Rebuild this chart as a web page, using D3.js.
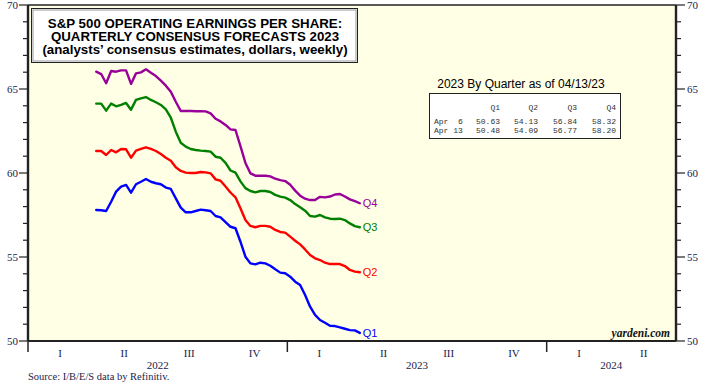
<!DOCTYPE html>
<html>
<head>
<meta charset="utf-8">
<script src="https://cdn.jsdelivr.net/npm/d3@7"></script>
<style>
  html, body { margin: 0; padding: 0; background: #ffffff; }
  svg { display: block; }
</style>
</head>
<body>
<svg id="chart" width="713" height="383"></svg>
<script>
// ---------------- DATA ----------------
const dates = [
  "2022-04-07","2022-04-14","2022-04-21","2022-04-28","2022-05-05","2022-05-12","2022-05-19","2022-05-26",
  "2022-06-02","2022-06-09","2022-06-16","2022-06-23","2022-06-30","2022-07-07","2022-07-14","2022-07-21",
  "2022-07-28","2022-08-04","2022-08-11","2022-08-18","2022-08-25","2022-09-01","2022-09-08","2022-09-15",
  "2022-09-22","2022-09-29","2022-10-06","2022-10-13","2022-10-20","2022-10-27","2022-11-03","2022-11-10",
  "2022-11-17","2022-11-24","2022-12-01","2022-12-08","2022-12-15","2022-12-22","2022-12-29","2023-01-05",
  "2023-01-12","2023-01-19","2023-01-26","2023-02-02","2023-02-09","2023-02-16","2023-02-23","2023-03-02",
  "2023-03-09","2023-03-16","2023-03-23","2023-03-30","2023-04-06","2023-04-13"
];
const q1 = [57.80,57.78,57.74,58.29,58.89,59.19,59.29,58.83,59.33,59.48,59.64,59.48,59.39,59.33,59.13,59.05,
  58.49,57.94,57.66,57.66,57.74,57.82,57.78,57.74,57.44,57.36,57.08,56.80,56.71,55.91,55.02,54.62,
  54.56,54.66,54.62,54.48,54.27,54.07,54.03,53.83,53.53,53.33,52.74,52.04,51.55,51.25,51.09,50.91,
  50.89,50.81,50.73,50.65,50.63,50.48];
const q2 = [61.31,61.31,61.07,61.37,61.23,61.43,61.41,60.91,61.33,61.43,61.53,61.43,61.31,61.13,60.91,60.73,
  60.34,60.12,60.02,60.00,60.00,60.06,60.04,59.98,59.62,59.54,59.20,58.84,58.55,57.90,57.20,56.85,
  56.77,56.85,56.85,56.80,56.61,56.49,56.45,56.21,55.97,55.75,55.45,55.12,54.92,54.82,54.66,54.58,
  54.58,54.58,54.46,54.23,54.13,54.09];
const q3 = [64.13,64.13,63.71,64.13,63.97,64.05,64.17,63.77,64.35,64.44,64.52,64.35,64.21,64.05,63.79,63.29,
  62.46,61.80,61.57,61.43,61.37,61.33,61.31,61.27,60.97,60.91,60.60,60.15,60.02,59.50,59.10,58.93,
  58.85,58.93,58.93,58.87,58.70,58.59,58.53,58.39,58.15,57.96,57.76,57.44,57.40,57.50,57.36,57.28,
  57.26,57.28,57.20,57.00,56.84,56.77];
const q4 = [66.03,65.89,65.34,66.07,66.03,66.11,66.11,65.30,65.93,65.99,66.17,65.97,65.77,65.50,65.20,64.84,
  64.24,63.69,63.69,63.69,63.68,63.68,63.67,63.55,63.23,63.07,62.86,62.60,62.56,61.60,60.60,59.98,
  59.84,59.84,59.84,59.80,59.66,59.58,59.52,59.30,58.95,58.65,58.47,58.39,58.39,58.58,58.55,58.60,
  58.72,58.75,58.60,58.43,58.32,58.20];
const seriesNames = ["Q1","Q2","Q3","Q4"];
const seriesColors = ["#0000ff","#ff0000","#008000","#990099"];

const quarterLabels = ["I","II","III","IV"];
const yearLabels = ["2022","2023","2024"];
const yTicks = [50,55,60,65,70];

const titleLines = [
  "S&P 500 OPERATING EARNINGS PER SHARE:",
  "QUARTERLY CONSENSUS FORECASTS 2023",
  "(analysts\u2019 consensus estimates, dollars, weekly)"
];
const legendTitle = "2023 By Quarter as of 04/13/23";
const tableHeader = ["Q1","Q2","Q3","Q4"];
const tableRowLabels = ["Apr  6","Apr 13"];
const tableRows = [
  ["50.63","54.13","56.84","58.32"],
  ["50.48","54.09","56.77","58.20"]
];
const sourceText = "Source: I/B/E/S data by Refinitiv.";
const brandText = "yardeni.com";

// ---------------- SETUP ----------------
const svg = d3.select("#chart");
const parse = d3.timeParse("%Y-%m-%d");
const dts = dates.map(parse);

const L = 28, R = 676, T = 5, B = 341;
const x = d3.scaleTime()
  .domain([new Date(2022,0,1), new Date(2024,6,1)])
  .range([L, R]);
const y = d3.scaleLinear().domain([50,70]).range([B, T]);

const serif = "'Liberation Serif','Times New Roman',serif";
const sans = "'Liberation Sans',Arial,sans-serif";
const mono = "'Liberation Mono','Courier New',monospace";
const axisColor = "#22224a";

// plot background
svg.append("rect").attr("x", L).attr("y", T).attr("width", R - L).attr("height", B - T)
  .attr("fill", "#ffffe6");

// ---------------- Y AXES ----------------
const minor = d3.range(50, 71, 1);
function yAxisSide(side) {
  const g = svg.append("g");
  const x0 = side === "left" ? L : R;
  const dir = side === "left" ? -1 : 1;
  minor.forEach(v => {
    const major = v % 5 === 0;
    g.append("line")
      .attr("x1", x0).attr("x2", x0 + dir * (major ? 9 : 5))
      .attr("y1", y(v)).attr("y2", y(v))
      .attr("stroke", "#222").attr("stroke-width", 1.2);
  });
  yTicks.forEach(v => {
    g.append("text")
      .attr("x", side === "left" ? L - 10 : R + 11)
      .attr("y", y(v))
      .attr("dy", "0.35em")
      .attr("text-anchor", side === "left" ? "end" : "start")
      .attr("font-family", serif).attr("font-size", 11)
      .attr("fill", axisColor)
      .text(v);
  });
}
yAxisSide("left");
yAxisSide("right");

// ---------------- X AXIS ----------------
const quarters = d3.timeMonth.every(3).range(new Date(2022,0,1), new Date(2024,6,1));
quarters.forEach((q, i) => {
  const qEnd = d3.timeMonth.offset(q, 3);
  const mid = new Date((q.getTime() + qEnd.getTime()) / 2);
  svg.append("text")
    .attr("x", x(mid)).attr("y", 357)
    .attr("text-anchor", "middle")
    .attr("font-family", serif).attr("font-size", 11)
    .attr("fill", axisColor)
    .text(quarterLabels[i % 4]);
});
yearLabels.forEach((yr, i) => {
  const s = new Date(+yr, 0, 1);
  const e = d3.min([new Date(+yr + 1, 0, 1), x.domain()[1]]);
  const mid = new Date((s.getTime() + e.getTime()) / 2);
  svg.append("text")
    .attr("x", x(mid)).attr("y", 369)
    .attr("text-anchor", "middle")
    .attr("font-family", serif).attr("font-size", 11)
    .attr("fill", axisColor)
    .text(yr);
  svg.append("line")
    .attr("x1", x(s)).attr("x2", x(s))
    .attr("y1", B).attr("y2", 352)
    .attr("stroke", "#222").attr("stroke-width", 1.5);
});

// ---------------- LINES ----------------
const allSeries = [q1, q2, q3, q4];
const line = d3.line().x((d, i) => x(dts[i])).y(d => y(d)).curve(d3.curveLinear);
allSeries.forEach((s, k) => {
  svg.append("path")
    .datum(s)
    .attr("d", line)
    .attr("fill", "none")
    .attr("stroke", seriesColors[k])
    .attr("stroke-width", 2.4)
    .attr("stroke-linejoin", "round")
    .attr("stroke-linecap", "round");
  const last = s.length - 1;
  svg.append("text")
    .attr("x", x(dts[last]) + 3)
    .attr("y", y(s[last]))
    .attr("dy", "0.38em")
    .attr("font-family", sans).attr("font-size", 11)
    .attr("fill", seriesColors[k])
    .text(seriesNames[k]);
});

// ---------------- FRAME ----------------
svg.append("line").attr("x1", L).attr("x2", R).attr("y1", T).attr("y2", T)
  .attr("stroke", "#222").attr("stroke-width", 1.5);
svg.append("line").attr("x1", L).attr("x2", R).attr("y1", B).attr("y2", B)
  .attr("stroke", "#222").attr("stroke-width", 2.2);
svg.append("line").attr("x1", L).attr("x2", L).attr("y1", T).attr("y2", B)
  .attr("stroke", "#222").attr("stroke-width", 2.4);
svg.append("line").attr("x1", R).attr("x2", R).attr("y1", T).attr("y2", B)
  .attr("stroke", "#222").attr("stroke-width", 2.4);

// ---------------- TITLE BOX ----------------
svg.append("rect").attr("x", 31.5).attr("y", 8.5).attr("width", 326).attr("height", 54)
  .attr("fill", "#ffffff").attr("stroke", "#222").attr("stroke-width", 1);
svg.append("rect").attr("x", 33).attr("y", 10).attr("width", 323).attr("height", 51)
  .attr("fill", "none").attr("stroke", "#999").attr("stroke-width", 1);
titleLines.forEach((t, i) => {
  svg.append("text")
    .attr("x", 195).attr("y", 27.5 + i * 13.2)
    .attr("text-anchor", "middle")
    .attr("font-family", sans).attr("font-size", 13.3).attr("font-weight", "bold")
    .attr("fill", "#000")
    .text(t);
});

// ---------------- LEGEND TABLE ----------------
svg.append("text")
  .attr("x", 521).attr("y", 88)
  .attr("text-anchor", "middle")
  .attr("font-family", sans).attr("font-size", 12)
  .attr("fill", "#000")
  .text(legendTitle);
svg.append("rect").attr("x", 429.5).attr("y", 93.5).attr("width", 191).attr("height", 45)
  .attr("fill", "#ffffff").attr("stroke", "#222").attr("stroke-width", 1);
const colX = [500, 538, 577, 616];
tableHeader.forEach((h, j) => {
  svg.append("text").attr("x", colX[j]).attr("y", 110)
    .attr("text-anchor", "end")
    .attr("font-family", mono).attr("font-size", 8)
    .attr("fill", "#333").text(h);
});
tableRows.forEach((row, r) => {
  const yy = 124 + r * 9;
  svg.append("text").attr("x", 434).attr("y", yy)
    .attr("font-family", mono).attr("font-size", 8)
    .attr("fill", "#333").attr("xml:space", "preserve")
    .style("white-space", "pre")
    .text(tableRowLabels[r]);
  row.forEach((v, j) => {
    svg.append("text").attr("x", colX[j]).attr("y", yy)
      .attr("text-anchor", "end")
      .attr("font-family", mono).attr("font-size", 8)
      .attr("fill", "#333").text(v);
  });
});

// ---------------- FOOTER TEXT ----------------
svg.append("text")
  .attr("x", 670).attr("y", 337)
  .attr("text-anchor", "end")
  .attr("font-family", serif).attr("font-size", 11.5)
  .attr("font-weight", "bold").attr("font-style", "italic")
  .attr("fill", "#111")
  .text(brandText);
svg.append("text")
  .attr("x", 28).attr("y", 380)
  .attr("font-family", serif).attr("font-size", 10.5)
  .attr("fill", "#22224a")
  .text(sourceText);
</script>
</body>
</html>
